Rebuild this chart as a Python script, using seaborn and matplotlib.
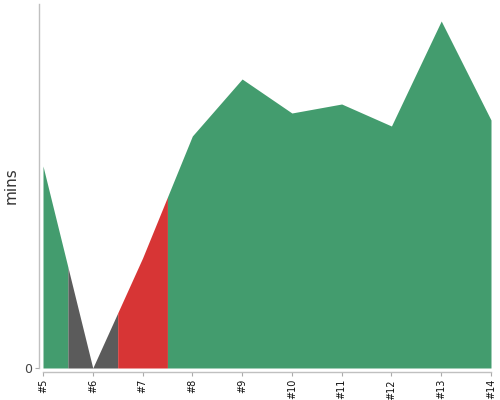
import numpy as np
import matplotlib
matplotlib.use("Agg")
import matplotlib.pyplot as plt
import seaborn as sns

# match labels and durations (mins)
labels = ["#5", "#6", "#7", "#8", "#9", "#10", "#11", "#12", "#13", "#14"]
mins = [20.2, 0.0, 11.0, 23.2, 28.9, 25.5, 26.4, 24.2, 34.7, 24.8]
status = ["ok", "miss", "late", "ok", "ok", "ok", "ok", "ok", "ok", "ok"]

colors = {"ok": "#439c6e", "miss": "#5b5b5b", "late": "#d73535"}

sns.set_style("ticks")
plt.rcParams["font.family"] = ["DejaVu Sans"]

fig = plt.figure(figsize=(5, 4), dpi=100)
ax = fig.add_axes([0.086, 0.08, 0.896, 0.91])
sns.despine(ax=ax, offset=3)

xs = np.arange(len(labels))
n = len(labels)

# group consecutive points with the same status; each point owns
# the half-step on either side of it
runs = []
start = 0
for i in range(1, n + 1):
    if i == n or status[i] != status[start]:
        runs.append((start, i - 1, status[start]))
        start = i

for a, b, st in runs:
    lo = max(a - 0.5, 0)
    hi = min(b + 0.5, n - 1)
    seg_x = np.concatenate([[lo], xs[a:b + 1], [hi]])
    seg_y = np.interp(seg_x, xs, mins)
    ax.fill_between(seg_x, 0, seg_y, color=colors[st], linewidth=0)

ax.set_xlim(0, n - 1)
ax.set_ylim(0, 36.4)
ax.set_xticks(xs)
ax.set_xticklabels(labels, rotation=90, fontsize=7, color="#111111")
ax.set_yticks([0])
ax.set_yticklabels(["0"], fontsize=9, color="#444444")
ax.set_ylabel("mins", fontsize=11, color="#333333")
ax.yaxis.set_label_coords(-0.054, 0.5)
ax.tick_params(axis="both", length=3, width=0.8, color="#aaaaaa", pad=2)
for side in ["left", "bottom"]:
    ax.spines[side].set_color("#c0c0c0")
    ax.spines[side].set_linewidth(1)

fig.savefig("out.png", dpi=100)
